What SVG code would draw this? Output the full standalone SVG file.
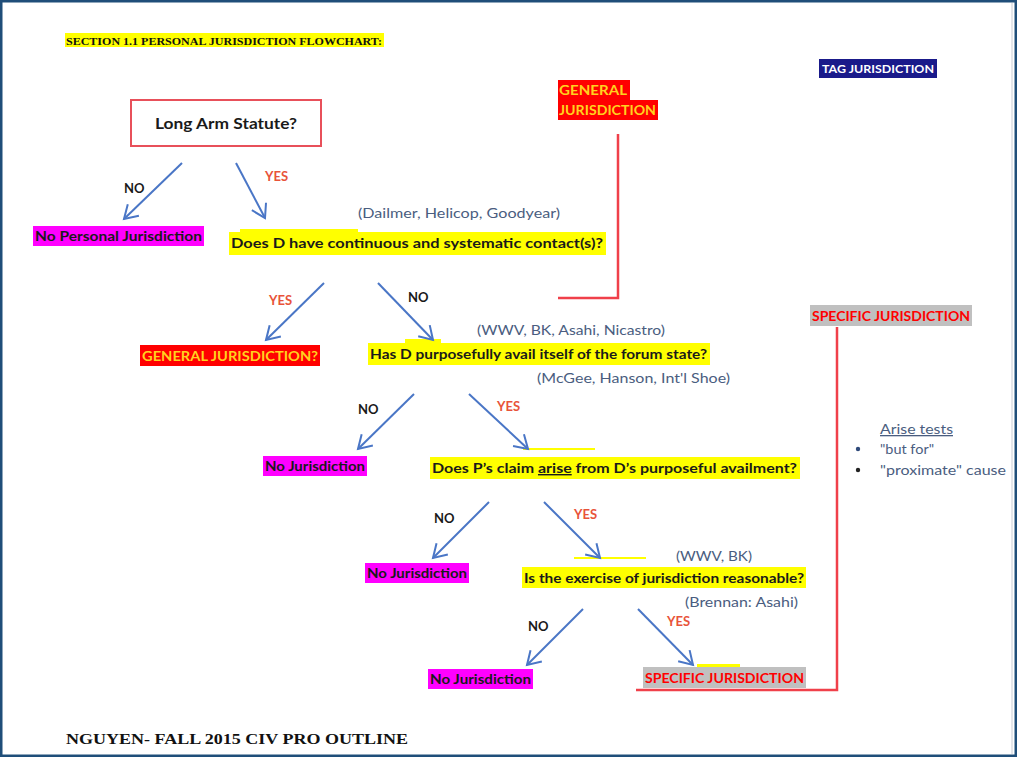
<svg xmlns="http://www.w3.org/2000/svg" width="1017" height="757" viewBox="0 0 1017 757">
<style>
.t{font-family:"Lato","Open Sans","Liberation Sans",sans-serif;font-weight:bold;}
.q{font-size:14px;fill:#1a1a1a;}
.case{font-family:"Lato","Open Sans","Liberation Sans",sans-serif;font-size:13px;fill:#4a5d80;}
.no{font-size:13px;fill:#1a1a1a;}
.yes{font-size:13px;fill:#e8533a;}
.arr{stroke:#4a76c6;stroke-width:2;fill:none;marker-end:url(#ah);}
.red{stroke:#f0404a;stroke-width:2.5;fill:none;}
.yl{fill:#ffff00;}
.mg{fill:#ff00ff;}
</style>
<defs>
<marker id="ah" markerUnits="userSpaceOnUse" markerWidth="22" markerHeight="22" refX="15" refY="9" orient="auto">
<path d="M2,1 L15,9 L2,17" fill="none" stroke="#4a76c6" stroke-width="2"/>
</marker>
</defs>
<rect x="0" y="0" width="1017" height="757" fill="#ffffff"/>
<rect x="1" y="1" width="1015" height="755" fill="none" stroke="#1f4e79" stroke-width="3"/>
<line x1="1012" y1="3" x2="1012" y2="754" stroke="#c8ccd4" stroke-width="1"/>

<g id="title">
<rect x="65" y="33" width="319" height="14" class="yl"/>
<text x="66" y="44.5" font-family="Liberation Serif,serif" font-weight="bold" font-size="10" fill="#111" textLength="316" lengthAdjust="spacingAndGlyphs">SECTION 1.1 PERSONAL JURISDICTION FLOWCHART:</text>
</g>

<g id="tag">
<rect x="819" y="59" width="118" height="19" fill="#1a1a8a"/>
<text x="822" y="73" class="t" font-size="12" fill="#ffffff" textLength="112" lengthAdjust="spacingAndGlyphs">TAG JURISDICTION</text>
</g>

<g id="general-top">
<rect x="558" y="80" width="72" height="20" fill="#ff0000"/>
<rect x="558" y="100" width="100" height="20" fill="#ff0000"/>
<text x="559" y="95" class="t" font-size="13" fill="#ffd21f" textLength="68" lengthAdjust="spacingAndGlyphs">GENERAL</text>
<text x="559" y="115" class="t" font-size="13" fill="#ffd21f" textLength="97" lengthAdjust="spacingAndGlyphs">JURISDICTION</text>
</g>

<g id="long-arm">
<rect x="131" y="100" width="190" height="46" fill="#ffffff" stroke="#e8505a" stroke-width="2"/>
<text x="226" y="129" class="t" font-size="15" fill="#1a1a1a" text-anchor="middle" textLength="142" lengthAdjust="spacingAndGlyphs">Long Arm Statute?</text>
</g>

<g id="no-pj">
<rect x="33" y="226" width="171" height="20" class="mg"/>
<text x="35" y="241" class="t q" font-size="13" textLength="167" lengthAdjust="spacingAndGlyphs">No Personal Jurisdiction</text>
</g>

<g id="q1">
<text x="358" y="218" class="case" textLength="202" lengthAdjust="spacingAndGlyphs">(Dailmer, Helicop, Goodyear)</text>
<rect x="240" y="229" width="118" height="4" class="yl"/>
<rect x="229" y="232" width="377" height="23" class="yl"/>
<text x="231" y="248" class="t q" textLength="372" lengthAdjust="spacingAndGlyphs">Does D have continuous and systematic contact(s)?</text>
</g>

<g id="general-q">
<rect x="140" y="345" width="180" height="21" fill="#ff0000"/>
<text x="142" y="360.5" class="t" font-size="13" fill="#ffd21f" textLength="176" lengthAdjust="spacingAndGlyphs">GENERAL JURISDICTION?</text>
</g>

<g id="q2">
<text x="477" y="335" class="case" textLength="188" lengthAdjust="spacingAndGlyphs">(WWV, BK, Asahi, Nicastro)</text>
<rect x="405" y="339" width="36" height="5" class="yl"/>
<rect x="368" y="343" width="342" height="22" class="yl"/>
<text x="370" y="359" class="t q" textLength="337" lengthAdjust="spacingAndGlyphs">Has D purposefully avail itself of the forum state?</text>
<text x="537" y="383" class="case" textLength="193" lengthAdjust="spacingAndGlyphs">(McGee, Hanson, Int'l Shoe)</text>
</g>

<g id="nj1">
<rect x="263" y="456" width="104" height="20" class="mg"/>
<text x="265" y="471" class="t q" font-size="13" textLength="100" lengthAdjust="spacingAndGlyphs">No Jurisdiction</text>
</g>

<g id="q3">
<rect x="523" y="448" width="72" height="2" class="yl"/>
<rect x="430" y="457" width="370" height="22" class="yl"/>
<text x="432" y="473" class="t q" textLength="365" lengthAdjust="spacingAndGlyphs">Does P’s claim <tspan text-decoration="underline">arise</tspan> from D’s purposeful availment?</text>
</g>

<g id="arise-tests">
<text x="880" y="434" class="case" font-size="13" fill="#2f4a7a" text-decoration="underline" textLength="73" lengthAdjust="spacingAndGlyphs">Arise tests</text>
<circle cx="858" cy="449" r="2.2" fill="#2f4a7a"/>
<text x="880" y="454" class="case" textLength="54" lengthAdjust="spacingAndGlyphs">"but for"</text>
<circle cx="858" cy="470" r="2.2" fill="#222"/>
<text x="880" y="475" class="case" textLength="126" lengthAdjust="spacingAndGlyphs">"proximate" cause</text>
</g>

<g id="specific-right">
<rect x="810" y="305" width="162" height="21" fill="#c0c0c0"/>
<text x="812" y="321" class="t" font-size="13" fill="#ff0000" textLength="158" lengthAdjust="spacingAndGlyphs">SPECIFIC JURISDICTION</text>
</g>

<g id="nj2">
<rect x="365" y="563" width="104" height="20" class="mg"/>
<text x="367" y="578" class="t q" font-size="13" textLength="100" lengthAdjust="spacingAndGlyphs">No Jurisdiction</text>
</g>

<g id="q4">
<text x="676" y="561" class="case" textLength="76" lengthAdjust="spacingAndGlyphs">(WWV, BK)</text>
<rect x="574" y="557" width="72" height="2" class="yl"/>
<rect x="522" y="567" width="284" height="21" class="yl"/>
<text x="524" y="583" class="t q" textLength="280" lengthAdjust="spacingAndGlyphs">Is the exercise of jurisdiction reasonable?</text>
<text x="685" y="607" class="case" textLength="113" lengthAdjust="spacingAndGlyphs">(Brennan: Asahi)</text>
</g>

<g id="nj3">
<rect x="428" y="669" width="105" height="20" class="mg"/>
<text x="430" y="684" class="t q" font-size="13" textLength="101" lengthAdjust="spacingAndGlyphs">No Jurisdiction</text>
</g>

<g id="specific-bottom">
<rect x="697" y="664" width="43" height="3" class="yl"/>
<rect x="643" y="667" width="163" height="21" fill="#c0c0c0"/>
<text x="645" y="683" class="t" font-size="13" fill="#ff0000" textLength="159" lengthAdjust="spacingAndGlyphs">SPECIFIC JURISDICTION</text>
</g>

<g id="footer">
<text x="66" y="744" font-family="Liberation Serif,serif" font-weight="bold" font-size="15" fill="#111" textLength="342" lengthAdjust="spacingAndGlyphs">NGUYEN- FALL 2015 CIV PRO OUTLINE</text>
</g>

<g id="connectors">
<polyline class="red" points="618,134 618,298 558,298"/>
<polyline class="red" points="837,327 837,690 636,690"/>
<line class="arr" x1="182" y1="163" x2="124" y2="219"/>
<line class="arr" x1="236" y1="163" x2="265" y2="218"/>
<line class="arr" x1="324" y1="283" x2="266" y2="340"/>
<line class="arr" x1="378" y1="283" x2="433" y2="340"/>
<line class="arr" x1="414" y1="394" x2="358" y2="449"/>
<line class="arr" x1="469" y1="394" x2="528" y2="449"/>
<line class="arr" x1="489" y1="502" x2="433" y2="558"/>
<line class="arr" x1="544" y1="502" x2="600" y2="558"/>
<line class="arr" x1="583" y1="609" x2="527" y2="665"/>
<line class="arr" x1="638" y1="609" x2="693" y2="665"/>
<text x="124" y="193" class="t no">NO</text>
<text x="265" y="181" class="t yes">YES</text>
<text x="269" y="305" class="t yes">YES</text>
<text x="408" y="302" class="t no">NO</text>
<text x="358" y="414" class="t no">NO</text>
<text x="497" y="411" class="t yes">YES</text>
<text x="434" y="523" class="t no">NO</text>
<text x="574" y="519" class="t yes">YES</text>
<text x="528" y="631" class="t no">NO</text>
<text x="667" y="626" class="t yes">YES</text>
</g>
</svg>
